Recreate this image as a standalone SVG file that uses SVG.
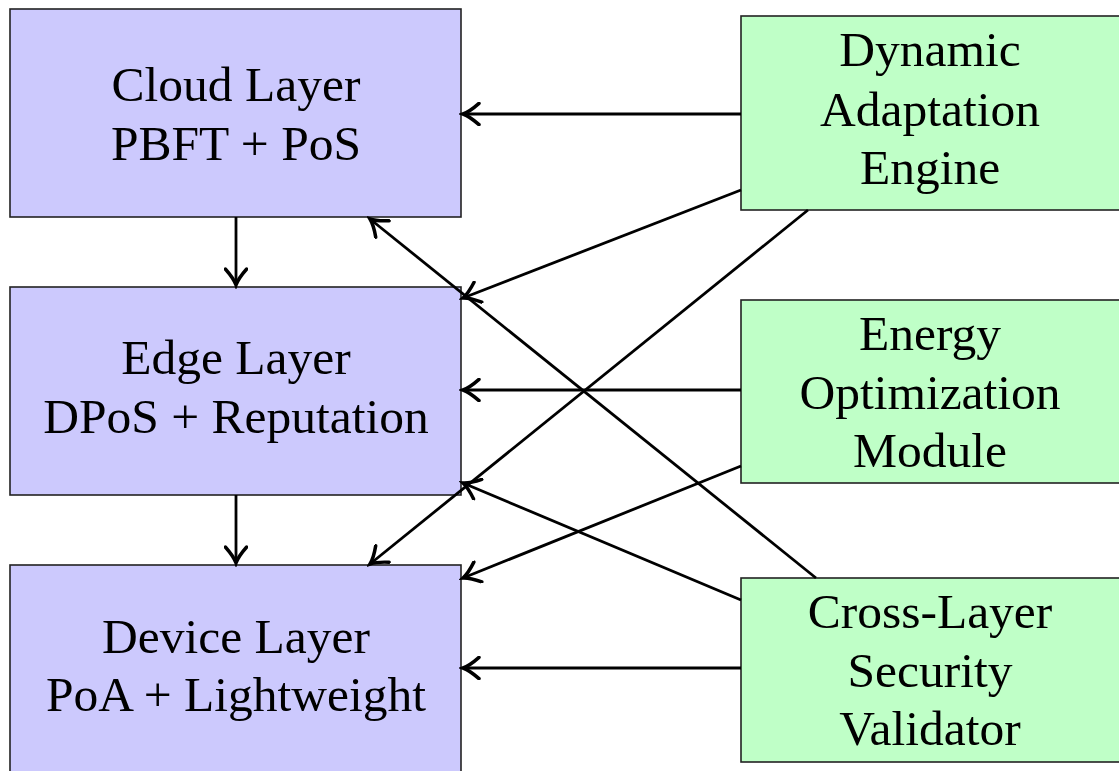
<svg xmlns="http://www.w3.org/2000/svg" width="1119" height="771" viewBox="0 0 1119 771">
<style>
.layer{fill:#ccc9fd;stroke:#222;stroke-width:1.6}
.mod{fill:#bfffc7;stroke:#222;stroke-width:1.6}
text{font-family:"Liberation Serif","Times New Roman",serif;font-size:49.5px;fill:#000;text-anchor:middle}
.c{fill:none;stroke:#000;stroke-width:2.8;marker-end:url(#ah)}
</style>
<defs>
<marker id="ah" markerUnits="userSpaceOnUse" markerWidth="24" markerHeight="24" viewBox="-14 -9 16 18" refX="0" refY="0" orient="auto">
<path d="M-12,-8 Q-5,-1.8 0,0 Q-5,1.8 -12,8" fill="none" stroke="#000" stroke-width="2.6" stroke-linecap="round"/>
</marker>
</defs>
<rect width="1119" height="771" fill="#fff"/>
<g id="cloud"><rect class="layer" x="10" y="9" width="451" height="208"/><text x="236" y="101">Cloud Layer</text><text x="236" y="160">PBFT + PoS</text></g>
<g id="edge"><rect class="layer" x="10" y="287" width="451" height="208"/><text x="236" y="374">Edge Layer</text><text x="236" y="433">DPoS + Reputation</text></g>
<g id="device"><rect class="layer" x="10" y="565" width="451" height="220"/><text x="236" y="653">Device Layer</text><text x="236" y="711">PoA + Lightweight</text></g>
<g id="dynamic"><rect class="mod" x="741" y="16" width="390" height="194"/><text x="930" y="66">Dynamic</text><text x="930" y="126">Adaptation</text><text x="930" y="184">Engine</text></g>
<g id="energy"><rect class="mod" x="741" y="300" width="390" height="183"/><text x="930" y="350">Energy</text><text x="930" y="409">Optimization</text><text x="930" y="467">Module</text></g>
<g id="security"><rect class="mod" x="741" y="578" width="390" height="184"/><text x="930" y="628">Cross-Layer</text><text x="930" y="687">Security</text><text x="930" y="745">Validator</text></g>
<g id="connectors">
<line class="c" x1="236" y1="217" x2="236" y2="285"/>
<line class="c" x1="236" y1="495" x2="236" y2="563"/>
<line class="c" x1="741" y1="114" x2="463" y2="114"/>
<line class="c" x1="741" y1="190" x2="463" y2="298"/>
<line class="c" x1="808" y1="210" x2="370" y2="564"/>
<line class="c" x1="741" y1="390" x2="463" y2="390"/>
<line class="c" x1="741" y1="466" x2="463" y2="578"/>
<line class="c" x1="816" y1="578" x2="370" y2="219"/>
<line class="c" x1="741" y1="600" x2="463" y2="483"/>
<line class="c" x1="741" y1="668" x2="463" y2="668"/>
</g>
</svg>
